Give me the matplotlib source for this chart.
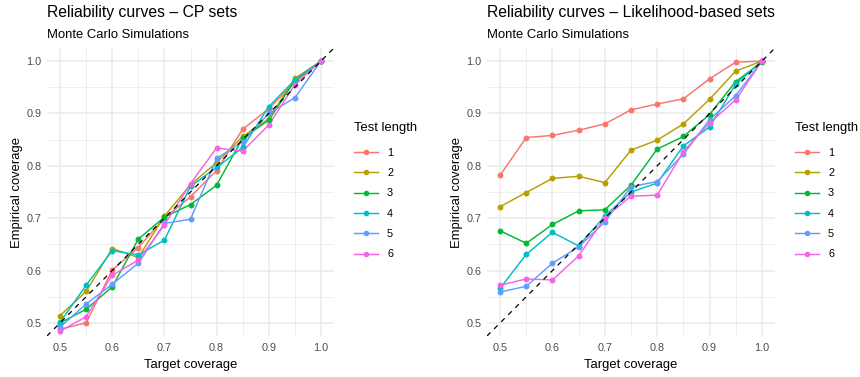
import matplotlib
matplotlib.use("Agg")
import matplotlib.pyplot as plt
from matplotlib.lines import Line2D
from matplotlib.ticker import MultipleLocator, FormatStrFormatter

plt.rcParams['font.family'] = ['Liberation Sans', 'DejaVu Sans']

target = [0.50, 0.55, 0.60, 0.65, 0.70, 0.75, 0.80, 0.85, 0.90, 0.95, 1.00]
test_lengths = ["1", "2", "3", "4", "5", "6"]
colors = ["#F8766D", "#B79F00", "#00BA38", "#00BFC4", "#619CFF", "#F564E3"]

cp_1 = [0.488, 0.500, 0.601, 0.644, 0.700, 0.741, 0.791, 0.870, 0.909, 0.960, 1.000]
cp_2 = [0.514, 0.560, 0.642, 0.625, 0.704, 0.764, 0.806, 0.856, 0.890, 0.967, 1.000]
cp_3 = [0.500, 0.526, 0.569, 0.660, 0.702, 0.726, 0.763, 0.853, 0.887, 0.963, 1.000]
cp_4 = [0.501, 0.572, 0.638, 0.630, 0.658, 0.761, 0.797, 0.835, 0.913, 0.964, 1.000]
cp_5 = [0.492, 0.536, 0.574, 0.614, 0.690, 0.698, 0.814, 0.846, 0.900, 0.930, 1.000]
cp_6 = [0.484, 0.512, 0.591, 0.620, 0.687, 0.766, 0.834, 0.828, 0.878, 0.955, 1.000]

lik_1 = [0.782, 0.854, 0.858, 0.868, 0.880, 0.907, 0.918, 0.928, 0.966, 0.998, 1.000]
lik_2 = [0.722, 0.749, 0.776, 0.780, 0.768, 0.830, 0.849, 0.880, 0.927, 0.981, 1.000]
lik_3 = [0.676, 0.652, 0.688, 0.714, 0.716, 0.763, 0.832, 0.856, 0.898, 0.961, 0.998]
lik_4 = [0.566, 0.631, 0.673, 0.647, 0.704, 0.750, 0.767, 0.838, 0.874, 0.956, 1.000]
lik_5 = [0.559, 0.570, 0.614, 0.645, 0.693, 0.760, 0.770, 0.822, 0.888, 0.934, 1.000]
lik_6 = [0.572, 0.584, 0.582, 0.628, 0.701, 0.742, 0.744, 0.827, 0.882, 0.926, 1.000]

cp_series = [cp_1, cp_2, cp_3, cp_4, cp_5, cp_6]
lik_series = [lik_1, lik_2, lik_3, lik_4, lik_5, lik_6]

W, H = 860, 377
fig = plt.figure(figsize=(W / 100, H / 100), dpi=100)

def px_axes(left, top, right, bottom):
    return fig.add_axes([left / W, 1 - bottom / H, (right - left) / W, (bottom - top) / H])

def draw_panel(ax, series, title, legend_xy):
    ax.set_xlim(0.475, 1.025)
    ax.set_ylim(0.475, 1.025)
    for s in ax.spines.values():
        s.set_visible(False)
    ax.xaxis.set_major_locator(MultipleLocator(0.1))
    ax.yaxis.set_major_locator(MultipleLocator(0.1))
    ax.set_xticks([0.55, 0.65, 0.75, 0.85, 0.95], minor=True)
    ax.set_yticks([0.55, 0.65, 0.75, 0.85, 0.95], minor=True)
    ax.grid(True, which='major', color='#EBEBEB', linewidth=1.1)
    ax.grid(True, which='minor', color='#EBEBEB', linewidth=0.6)
    ax.set_axisbelow(True)
    ax.tick_params(which='both', length=0)
    ax.tick_params(which='major', labelsize=7.8, labelcolor='#4D4D4D')
    ax.tick_params(axis='x', which='major', pad=4.8)
    ax.tick_params(axis='y', which='major', pad=4)
    ax.xaxis.set_major_formatter(FormatStrFormatter('%.1f'))
    ax.yaxis.set_major_formatter(FormatStrFormatter('%.1f'))
    handles = []
    for vals, col, lab in zip(series, colors, test_lengths):
        ax.plot(target, vals, color=col, linewidth=1.05, zorder=2)
        ax.scatter(target, vals, color=col, s=18, zorder=3, linewidths=0)
        handles.append(Line2D([0], [0], color=col, linewidth=1.05, marker='o', markersize=4,
                              markeredgewidth=0, label=lab))
    ax.axline((0, 0), slope=1, color='black', linestyle=(0, (4, 4)), linewidth=0.9, zorder=4)
    ax.set_xlabel("Target coverage", fontsize=9.4, labelpad=4.3)
    ax.set_ylabel("Empirical coverage", fontsize=9.4, labelpad=2.6)
    ax.text(0.0, 1.0 + 31.3 / 288, title, transform=ax.transAxes, fontsize=11.3,
            ha='left', va='baseline')
    ax.text(0.0, 1.0 + 10.5 / 288, "Monte Carlo Simulations", transform=ax.transAxes,
            fontsize=9.4, ha='left', va='baseline')
    leg = fig.legend(handles=handles, title="Test length", loc='upper left',
                     bbox_to_anchor=(legend_xy[0] / W, 1 - legend_xy[1] / H),
                     frameon=False, fontsize=7.8, title_fontsize=9.4, handlelength=2.2,
                     handletextpad=0.85, labelspacing=0.95, borderaxespad=0, borderpad=0)
    leg._legend_box.align = "left"
    leg._legend_box.sep = 10

ax1 = px_axes(47, 48, 334, 336)
draw_panel(ax1, cp_series, "Reliability curves – CP sets", (354, 122))
ax2 = px_axes(487, 48, 775, 336)
draw_panel(ax2, lik_series, "Reliability curves – Likelihood-based sets", (795, 122))

fig.savefig("out.png", dpi=100)
